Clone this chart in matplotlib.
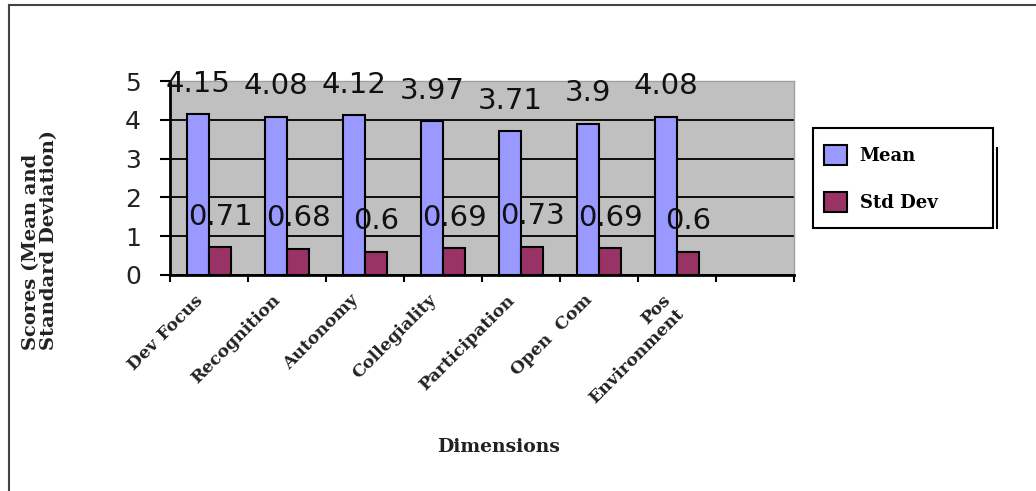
import matplotlib
matplotlib.use("Agg")
import matplotlib.pyplot as plt
import matplotlib.transforms as mtransforms
from matplotlib.patches import Rectangle, Patch
from matplotlib.lines import Line2D
import numpy as np

# data
dimensions = ["Dev Focus", "Recognition", "Autonomy", "Collegiality",
              "Participation", "Open  Com", "Pos\nEnvironment"]
mean_scores = [4.15, 4.08, 4.12, 3.97, 3.71, 3.9, 4.08]
std_devs = [0.71, 0.68, 0.6, 0.69, 0.73, 0.69, 0.6]

mean_color = "#9999FF"
std_color = "#993366"

W, H = 1036, 491
fig = plt.figure(figsize=(W / 100, H / 100), dpi=100)

# plot area in pixels: x 170..794, y 81..275
ax = fig.add_axes([170 / W, 1 - 275 / H, (794 - 170) / W, (275 - 81) / H])
ax.set_facecolor("#C0C0C0")

x = np.arange(len(dimensions))
w = 0.285
b1 = ax.bar(x - w / 2, mean_scores, w, color=mean_color, edgecolor="black", linewidth=1.5, zorder=3)
b2 = ax.bar(x + w / 2, std_devs, w, color=std_color, edgecolor="black", linewidth=1.5, zorder=3)

# value labels
for bars, vals in [(b1, mean_scores), (b2, std_devs)]:
    for r, v in zip(bars, vals):
        ax.annotate("%g" % v, (r.get_x() + r.get_width() / 2, v),
                    xytext=(0, 16), textcoords="offset points",
                    ha="center", va="baseline", fontsize=21,
                    family="DejaVu Sans", color="#111111", zorder=5,
                    annotation_clip=False)

ax.set_xlim(-0.5, 7.5)
ax.set_ylim(0, 5)
ax.set_yticks(range(6))
ax.yaxis.grid(True, color="black", linewidth=1.3, zorder=1)
ax.set_axisbelow(True)

ax.tick_params(axis="y", direction="out", length=7, width=1.5, pad=14,
               labelsize=18, colors="black")
for t in ax.get_yticklabels():
    t.set_family("DejaVu Sans")
    t.set_color("#222222")

# category labels at slot centres, tick marks at slot boundaries
ax.set_xticks(x)
ax.set_xticklabels(dimensions, rotation=45, ha="right", va="top",
                   rotation_mode="anchor", family="DejaVu Serif",
                   fontweight="bold", fontsize=12.5, multialignment="right",
                   color="#222222")
ax.tick_params(axis="x", which="major", length=0, pad=12)
shift = mtransforms.ScaledTranslation(-15 / 100, 0, fig.dpi_scale_trans)
for t in ax.get_xticklabels():
    t.set_transform(t.get_transform() + shift)
ax.set_xticks(np.arange(-0.5, 8.0, 1.0), minor=True)
ax.tick_params(axis="x", which="minor", direction="out", length=5, width=1.5)

for s in ["left", "bottom"]:
    ax.spines[s].set_linewidth(2)
    ax.spines[s].set_color("black")
for s in ["top", "right"]:
    ax.spines[s].set_linewidth(1)
    ax.spines[s].set_color("#A0A0A0")

# axis titles
fig.text(499 / W, 1 - 447 / H, "Dimensions", ha="center", va="center",
         family="DejaVu Serif", fontweight="bold", fontsize=13.5, color="#222222")
fig.text(40 / W, 1 - 240 / H, "Scores (Mean and\nStandard Deviation)",
         rotation=90, ha="center", va="center", multialignment="left",
         linespacing=1.0, family="DejaVu Serif", fontweight="bold",
         fontsize=14, color="#222222")

# legend box
fig.patches.append(Rectangle((813 / W, 1 - 228 / H), 180 / W, 100 / H,
                             transform=fig.transFigure, fill=False,
                             edgecolor="black", linewidth=1.5))
fig.lines.append(Line2D([997 / W, 997 / W], [1 - 148 / H, 1 - 228 / H],
                        transform=fig.transFigure, color="black", linewidth=1.5))
handles = [Patch(facecolor=mean_color, edgecolor="black", linewidth=1.5),
           Patch(facecolor=std_color, edgecolor="black", linewidth=1.5)]
fig.legend(handles, ["Mean", "Std Dev"], loc="upper left",
           bbox_to_anchor=(820 / W, 1 - 141 / H), frameon=False,
           prop={"family": "DejaVu Serif", "weight": "bold", "size": 13},
           handlelength=1.3, handleheight=1.4, handletextpad=0.7,
           labelspacing=1.45, borderaxespad=0, borderpad=0.2)

# outer border (top and left)
fig.lines.append(Line2D([9 / W, 9 / W], [0, 1 - 5 / H], transform=fig.transFigure,
                        color="#444444", linewidth=1.5))
fig.lines.append(Line2D([9 / W, 1], [1 - 5 / H, 1 - 5 / H], transform=fig.transFigure,
                        color="#444444", linewidth=1.5))

fig.savefig("out.png", dpi=100)
